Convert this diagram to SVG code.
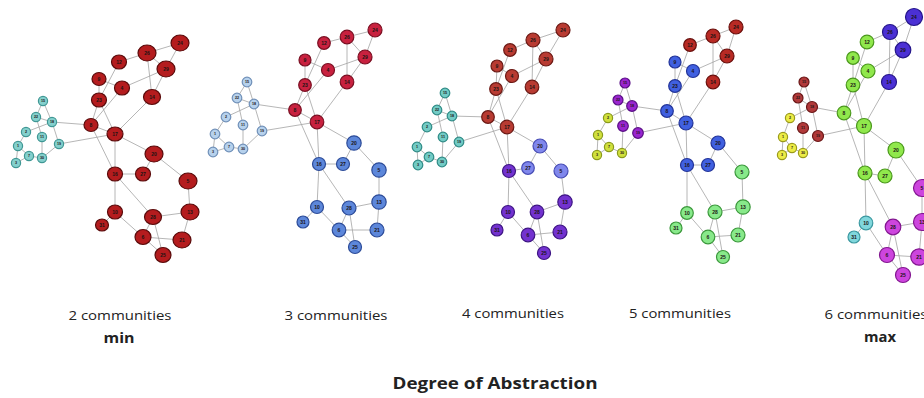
<svg xmlns="http://www.w3.org/2000/svg" width="924" height="398" viewBox="0 0 924 398">
<style>
  .links line { stroke:#a3a3a3; stroke-width:0.8; }
  .nd ellipse { stroke-width:1.2; }
  .nd text { font-family:"Liberation Sans", Arial, sans-serif; font-weight:bold; font-size:5px; text-anchor:middle; fill:#1c1414; }
  .sm text { font-size:3.7px; }
  .red1 ellipse { fill:#b41c1e; stroke:#5a0b0b; }
  .cyan1 ellipse { fill:#84d0cd; stroke:#3f9794; }
  .crim2 ellipse { fill:#c8213f; stroke:#7a0f22; }
  .blue2 ellipse { fill:#5d87da; stroke:#2c4b98; }
  .pale2 ellipse { fill:#b6d1ec; stroke:#7090b8; }
  .red3 ellipse { fill:#b83b32; stroke:#6b1914; }
  .cyan3 ellipse { fill:#72cbc5; stroke:#2f8b86; }
  .peri3 ellipse { fill:#8087ec; stroke:#474db5; }
  .purp3 ellipse { fill:#7332cf; stroke:#3d1583; }
  .red4 ellipse { fill:#b82a24; stroke:#690f0c; }
  .blue4 ellipse { fill:#4060e0; stroke:#223398; }
  .green4 ellipse { fill:#88e98a; stroke:#3b983b; }
  .purp4 ellipse { fill:#9a25cf; stroke:#590f85; }
  .yel4 ellipse { fill:#d0e03c; stroke:#8a9a1a; }
  .ind5 ellipse { fill:#4b30d4; stroke:#25168a; }
  .lime5 ellipse { fill:#90e84c; stroke:#4a981c; }
  .mag5 ellipse { fill:#cd45de; stroke:#82168f; }
  .cyan5 ellipse { fill:#80d7dc; stroke:#3a98a0; }
  .red5 ellipse { fill:#b0393a; stroke:#691616; }
  .yel5 ellipse { fill:#ecec46; stroke:#9a9a1a; }
  .cap { font-family:"Open Sans", "Noto Sans", "Liberation Sans", sans-serif; fill:#222; text-anchor:middle; }
</style>

<!-- ===== 2 communities ===== -->
<g id="panel1">
  <g id="p1-links" class="links">
    <line x1="180" y1="43" x2="147" y2="53"/><line x1="180" y1="43" x2="166" y2="69"/><line x1="147" y1="53" x2="166" y2="69"/>
    <line x1="147" y1="53" x2="119" y2="62"/><line x1="147" y1="53" x2="152" y2="97"/><line x1="166" y1="69" x2="122" y2="88"/>
    <line x1="166" y1="69" x2="152" y2="97"/><line x1="119" y1="62" x2="99" y2="100"/><line x1="99" y1="79" x2="99" y2="100"/>
    <line x1="99" y1="79" x2="122" y2="88"/><line x1="122" y1="88" x2="91" y2="125"/><line x1="99" y1="100" x2="91" y2="125"/>
    <line x1="99" y1="100" x2="115" y2="134"/><line x1="152" y1="97" x2="115" y2="134"/><line x1="91" y1="125" x2="115" y2="134"/>
    <line x1="91" y1="125" x2="52" y2="122"/><line x1="115" y1="134" x2="59" y2="144"/><line x1="91" y1="125" x2="115" y2="174"/>
    <line x1="115" y1="134" x2="115" y2="174"/><line x1="115" y1="134" x2="154" y2="154"/><line x1="154" y1="154" x2="143" y2="174"/>
    <line x1="154" y1="154" x2="188" y2="181"/><line x1="115" y1="174" x2="143" y2="174"/><line x1="115" y1="174" x2="115" y2="212"/>
    <line x1="115" y1="174" x2="153" y2="217"/><line x1="153" y1="217" x2="190" y2="212"/><line x1="188" y1="181" x2="190" y2="212"/>
    <line x1="190" y1="212" x2="182" y2="240"/><line x1="115" y1="212" x2="102" y2="225"/><line x1="115" y1="212" x2="143" y2="237"/>
    <line x1="153" y1="217" x2="143" y2="237"/><line x1="153" y1="217" x2="163" y2="255"/><line x1="143" y1="237" x2="182" y2="240"/>
    <line x1="143" y1="237" x2="163" y2="255"/>
    <line x1="43" y1="101" x2="36" y2="117"/><line x1="43" y1="101" x2="52" y2="122"/><line x1="36" y1="117" x2="52" y2="122"/>
    <line x1="26" y1="132" x2="52" y2="122"/><line x1="36" y1="117" x2="42" y2="137"/><line x1="52" y1="122" x2="59" y2="144"/>
    <line x1="26" y1="132" x2="18" y2="146"/><line x1="18" y1="146" x2="29" y2="156"/><line x1="16" y1="163" x2="29" y2="156"/>
    <line x1="29" y1="156" x2="42" y2="158"/><line x1="42" y1="137" x2="42" y2="158"/><line x1="42" y1="158" x2="59" y2="144"/>
    <line x1="18" y1="146" x2="16" y2="163"/>
  </g>
  <g class="nd red1">
    <g id="p1-24"><ellipse cx="180" cy="43" rx="9" ry="8"/><text x="180" y="45">24</text></g>
    <g id="p1-26"><ellipse cx="147" cy="53" rx="9" ry="8"/><text x="147" y="55">26</text></g>
    <g id="p1-29"><ellipse cx="166" cy="69" rx="9" ry="8"/><text x="166" y="71">29</text></g>
    <g id="p1-12"><ellipse cx="119" cy="62" rx="7.5" ry="7"/><text x="119" y="64">12</text></g>
    <g id="p1-9"><ellipse cx="99" cy="79" rx="7" ry="6.5"/><text x="99" y="81">9</text></g>
    <g id="p1-4"><ellipse cx="122" cy="88" rx="7.5" ry="7"/><text x="122" y="90">4</text></g>
    <g id="p1-14"><ellipse cx="152" cy="97" rx="8.5" ry="7.5"/><text x="152" y="99">14</text></g>
    <g id="p1-23"><ellipse cx="99" cy="100" rx="7.5" ry="7"/><text x="99" y="102">23</text></g>
    <g id="p1-8"><ellipse cx="91" cy="125" rx="7" ry="6.5"/><text x="91" y="127">8</text></g>
    <g id="p1-17"><ellipse cx="115" cy="134" rx="8" ry="7"/><text x="115" y="136">17</text></g>
    <g id="p1-20"><ellipse cx="154" cy="154" rx="9" ry="8"/><text x="154" y="156">20</text></g>
    <g id="p1-16"><ellipse cx="115" cy="174" rx="7.5" ry="7"/><text x="115" y="176">16</text></g>
    <g id="p1-27"><ellipse cx="143" cy="174" rx="7.5" ry="7"/><text x="143" y="176">27</text></g>
    <g id="p1-5"><ellipse cx="188" cy="181" rx="9" ry="8"/><text x="188" y="183">5</text></g>
    <g id="p1-10"><ellipse cx="115" cy="212" rx="7.5" ry="7"/><text x="115" y="214">10</text></g>
    <g id="p1-28"><ellipse cx="153" cy="217" rx="8.5" ry="7.5"/><text x="153" y="219">28</text></g>
    <g id="p1-13"><ellipse cx="190" cy="212" rx="9" ry="8"/><text x="190" y="214">13</text></g>
    <g id="p1-31"><ellipse cx="102" cy="225" rx="6.5" ry="6"/><text x="102" y="227">31</text></g>
    <g id="p1-6"><ellipse cx="143" cy="237" rx="8" ry="7.5"/><text x="143" y="239">6</text></g>
    <g id="p1-21"><ellipse cx="182" cy="240" rx="9" ry="8"/><text x="182" y="242">21</text></g>
    <g id="p1-25"><ellipse cx="163" cy="255" rx="8" ry="7.5"/><text x="163" y="257">25</text></g>
  </g>
  <g class="nd sm cyan1">
    <g id="p1-15"><ellipse cx="43" cy="101" rx="4.6" ry="4.6"/><text x="43" y="102.4">15</text></g>
    <g id="p1-22"><ellipse cx="36" cy="117" rx="4.6" ry="4.6"/><text x="36" y="118.4">22</text></g>
    <g id="p1-18"><ellipse cx="52" cy="122" rx="4.6" ry="4.6"/><text x="52" y="123.4">18</text></g>
    <g id="p1-2"><ellipse cx="26" cy="132" rx="4.6" ry="4.6"/><text x="26" y="133.4">2</text></g>
    <g id="p1-11"><ellipse cx="42" cy="137" rx="4.6" ry="4.6"/><text x="42" y="138.4">11</text></g>
    <g id="p1-19"><ellipse cx="59" cy="144" rx="4.6" ry="4.6"/><text x="59" y="145.4">19</text></g>
    <g id="p1-1"><ellipse cx="18" cy="146" rx="4.6" ry="4.6"/><text x="18" y="147.4">1</text></g>
    <g id="p1-7"><ellipse cx="29" cy="156" rx="4.6" ry="4.6"/><text x="29" y="157.4">7</text></g>
    <g id="p1-30"><ellipse cx="42" cy="158" rx="4.6" ry="4.6"/><text x="42" y="159.4">30</text></g>
    <g id="p1-3"><ellipse cx="16" cy="163" rx="4.6" ry="4.6"/><text x="16" y="164.4">3</text></g>
  </g>
</g>

<!-- ===== 3 communities ===== -->
<g id="panel2">
  <g id="p2-links" class="links">
    <line x1="375" y1="30" x2="347" y2="37"/><line x1="375" y1="30" x2="365" y2="57"/><line x1="347" y1="37" x2="365" y2="57"/>
    <line x1="347" y1="37" x2="324" y2="43"/><line x1="347" y1="37" x2="347" y2="82"/><line x1="365" y1="57" x2="328" y2="70"/>
    <line x1="365" y1="57" x2="347" y2="82"/><line x1="324" y1="43" x2="305" y2="85"/><line x1="305" y1="60" x2="305" y2="85"/>
    <line x1="305" y1="60" x2="328" y2="70"/><line x1="328" y1="70" x2="295" y2="110"/><line x1="305" y1="85" x2="295" y2="110"/>
    <line x1="305" y1="85" x2="317" y2="122"/><line x1="347" y1="82" x2="317" y2="122"/><line x1="295" y1="110" x2="317" y2="122"/>
    <line x1="295" y1="110" x2="254" y2="104"/><line x1="317" y1="122" x2="262" y2="131"/><line x1="295" y1="110" x2="319" y2="164"/>
    <line x1="317" y1="122" x2="319" y2="164"/><line x1="317" y1="122" x2="354" y2="143"/><line x1="354" y1="143" x2="343" y2="164"/>
    <line x1="354" y1="143" x2="379" y2="170"/><line x1="319" y1="164" x2="343" y2="164"/><line x1="319" y1="164" x2="317" y2="207"/>
    <line x1="319" y1="164" x2="349" y2="208"/><line x1="349" y1="208" x2="379" y2="202"/><line x1="379" y1="170" x2="379" y2="202"/>
    <line x1="379" y1="202" x2="377" y2="230"/><line x1="317" y1="207" x2="303" y2="222"/><line x1="317" y1="207" x2="339" y2="230"/>
    <line x1="349" y1="208" x2="339" y2="230"/><line x1="349" y1="208" x2="355" y2="247"/><line x1="339" y1="230" x2="377" y2="230"/>
    <line x1="339" y1="230" x2="355" y2="247"/>
    <line x1="247" y1="82" x2="237" y2="98"/><line x1="247" y1="82" x2="254" y2="104"/><line x1="237" y1="98" x2="254" y2="104"/>
    <line x1="226" y1="117" x2="254" y2="104"/><line x1="237" y1="98" x2="243" y2="125"/><line x1="254" y1="104" x2="262" y2="131"/>
    <line x1="226" y1="117" x2="215" y2="134"/><line x1="215" y1="134" x2="229" y2="147"/><line x1="213" y1="152" x2="229" y2="147"/>
    <line x1="229" y1="147" x2="243" y2="149"/><line x1="243" y1="125" x2="243" y2="149"/><line x1="243" y1="149" x2="262" y2="131"/>
    <line x1="215" y1="134" x2="213" y2="152"/>
  </g>
  <g class="nd crim2">
    <g id="p2-24"><ellipse cx="375" cy="30" rx="7" ry="7"/><text x="375" y="32">24</text></g>
    <g id="p2-26"><ellipse cx="347" cy="37" rx="6.8" ry="6.8"/><text x="347" y="39">26</text></g>
    <g id="p2-29"><ellipse cx="365" cy="57" rx="7" ry="7"/><text x="365" y="59">29</text></g>
    <g id="p2-12"><ellipse cx="324" cy="43" rx="6.3" ry="6.3"/><text x="324" y="45">12</text></g>
    <g id="p2-9"><ellipse cx="305" cy="60" rx="6" ry="6"/><text x="305" y="62">9</text></g>
    <g id="p2-4"><ellipse cx="328" cy="70" rx="6.5" ry="6.5"/><text x="328" y="72">4</text></g>
    <g id="p2-14"><ellipse cx="347" cy="82" rx="6.8" ry="6.8"/><text x="347" y="84">14</text></g>
    <g id="p2-23"><ellipse cx="305" cy="85" rx="6.3" ry="6.3"/><text x="305" y="87">23</text></g>
    <g id="p2-8"><ellipse cx="295" cy="110" rx="6.3" ry="6.3"/><text x="295" y="112">8</text></g>
    <g id="p2-17"><ellipse cx="317" cy="122" rx="6.8" ry="6.8"/><text x="317" y="124">17</text></g>
  </g>
  <g class="nd blue2">
    <g id="p2-20"><ellipse cx="354" cy="143" rx="7.2" ry="7.2"/><text x="354" y="145">20</text></g>
    <g id="p2-16"><ellipse cx="319" cy="164" rx="6.5" ry="6.5"/><text x="319" y="166">16</text></g>
    <g id="p2-27"><ellipse cx="343" cy="164" rx="6.5" ry="6.5"/><text x="343" y="166">27</text></g>
    <g id="p2-5"><ellipse cx="379" cy="170" rx="7.2" ry="7.2"/><text x="379" y="172">5</text></g>
    <g id="p2-10"><ellipse cx="317" cy="207" rx="6.5" ry="6.5"/><text x="317" y="209">10</text></g>
    <g id="p2-28"><ellipse cx="349" cy="208" rx="7" ry="7"/><text x="349" y="210">28</text></g>
    <g id="p2-13"><ellipse cx="379" cy="202" rx="7.2" ry="7.2"/><text x="379" y="204">13</text></g>
    <g id="p2-31"><ellipse cx="303" cy="222" rx="6" ry="6"/><text x="303" y="224">31</text></g>
    <g id="p2-6"><ellipse cx="339" cy="230" rx="6.8" ry="6.8"/><text x="339" y="232">6</text></g>
    <g id="p2-21"><ellipse cx="377" cy="230" rx="7" ry="7"/><text x="377" y="232">21</text></g>
    <g id="p2-25"><ellipse cx="355" cy="247" rx="6.5" ry="6.5"/><text x="355" y="249">25</text></g>
  </g>
  <g class="nd sm pale2">
    <g id="p2-15"><ellipse cx="247" cy="82" rx="4.8" ry="4.8"/><text x="247" y="83.4">15</text></g>
    <g id="p2-22"><ellipse cx="237" cy="98" rx="4.8" ry="4.8"/><text x="237" y="99.4">22</text></g>
    <g id="p2-18"><ellipse cx="254" cy="104" rx="4.8" ry="4.8"/><text x="254" y="105.4">18</text></g>
    <g id="p2-2"><ellipse cx="226" cy="117" rx="4.8" ry="4.8"/><text x="226" y="118.4">2</text></g>
    <g id="p2-11"><ellipse cx="243" cy="125" rx="4.8" ry="4.8"/><text x="243" y="126.4">11</text></g>
    <g id="p2-19"><ellipse cx="262" cy="131" rx="4.8" ry="4.8"/><text x="262" y="132.4">19</text></g>
    <g id="p2-1"><ellipse cx="215" cy="134" rx="4.8" ry="4.8"/><text x="215" y="135.4">1</text></g>
    <g id="p2-7"><ellipse cx="229" cy="147" rx="4.8" ry="4.8"/><text x="229" y="148.4">7</text></g>
    <g id="p2-30"><ellipse cx="243" cy="149" rx="4.8" ry="4.8"/><text x="243" y="150.4">30</text></g>
    <g id="p2-3"><ellipse cx="213" cy="152" rx="4.8" ry="4.8"/><text x="213" y="153.4">3</text></g>
  </g>
</g>

<!-- ===== 4 communities ===== -->
<g id="panel3">
  <g id="p3-links" class="links">
    <line x1="563" y1="30" x2="533" y2="40"/><line x1="563" y1="30" x2="546" y2="59"/><line x1="533" y1="40" x2="546" y2="59"/>
    <line x1="533" y1="40" x2="510" y2="50"/><line x1="533" y1="40" x2="532" y2="87"/><line x1="546" y1="59" x2="512" y2="76"/>
    <line x1="546" y1="59" x2="532" y2="87"/><line x1="510" y1="50" x2="496" y2="89"/><line x1="497" y1="66" x2="496" y2="89"/>
    <line x1="497" y1="66" x2="512" y2="76"/><line x1="512" y1="76" x2="488" y2="117"/><line x1="496" y1="89" x2="488" y2="117"/>
    <line x1="496" y1="89" x2="507" y2="127"/><line x1="532" y1="87" x2="507" y2="127"/><line x1="488" y1="117" x2="507" y2="127"/>
    <line x1="488" y1="117" x2="452" y2="116"/><line x1="507" y1="127" x2="459" y2="142"/><line x1="488" y1="117" x2="509" y2="171"/>
    <line x1="507" y1="127" x2="509" y2="171"/><line x1="507" y1="127" x2="540" y2="146"/><line x1="540" y1="146" x2="528" y2="168"/>
    <line x1="540" y1="146" x2="561" y2="171"/><line x1="509" y1="171" x2="528" y2="168"/><line x1="509" y1="171" x2="508" y2="212"/>
    <line x1="509" y1="171" x2="537" y2="212"/><line x1="537" y1="212" x2="565" y2="202"/><line x1="561" y1="171" x2="565" y2="202"/>
    <line x1="565" y1="202" x2="560" y2="232"/><line x1="508" y1="212" x2="497" y2="230"/><line x1="508" y1="212" x2="528" y2="235"/>
    <line x1="537" y1="212" x2="528" y2="235"/><line x1="537" y1="212" x2="544" y2="253"/><line x1="528" y1="235" x2="560" y2="232"/>
    <line x1="528" y1="235" x2="544" y2="253"/>
    <line x1="445" y1="93" x2="437" y2="110"/><line x1="445" y1="93" x2="452" y2="116"/><line x1="437" y1="110" x2="452" y2="116"/>
    <line x1="427" y1="127" x2="452" y2="116"/><line x1="437" y1="110" x2="443" y2="137"/><line x1="452" y1="116" x2="459" y2="142"/>
    <line x1="427" y1="127" x2="417" y2="147"/><line x1="417" y1="147" x2="429" y2="157"/><line x1="418" y1="165" x2="429" y2="157"/>
    <line x1="429" y1="157" x2="442" y2="162"/><line x1="443" y1="137" x2="442" y2="162"/><line x1="442" y1="162" x2="459" y2="142"/>
    <line x1="417" y1="147" x2="418" y2="165"/>
  </g>
  <g class="nd red3">
    <g id="p3-24"><ellipse cx="563" cy="30" rx="7" ry="7"/><text x="563" y="32">24</text></g>
    <g id="p3-26"><ellipse cx="533" cy="40" rx="7" ry="7"/><text x="533" y="42">26</text></g>
    <g id="p3-29"><ellipse cx="546" cy="59" rx="7" ry="7"/><text x="546" y="61">29</text></g>
    <g id="p3-12"><ellipse cx="510" cy="50" rx="6.3" ry="6.3"/><text x="510" y="52">12</text></g>
    <g id="p3-9"><ellipse cx="497" cy="66" rx="6" ry="6"/><text x="497" y="68">9</text></g>
    <g id="p3-4"><ellipse cx="512" cy="76" rx="6.5" ry="6.5"/><text x="512" y="78">4</text></g>
    <g id="p3-14"><ellipse cx="532" cy="87" rx="6.8" ry="6.8"/><text x="532" y="89">14</text></g>
    <g id="p3-23"><ellipse cx="496" cy="89" rx="6.3" ry="6.3"/><text x="496" y="91">23</text></g>
    <g id="p3-8"><ellipse cx="488" cy="117" rx="6.3" ry="6.3"/><text x="488" y="119">8</text></g>
    <g id="p3-17"><ellipse cx="507" cy="127" rx="6.8" ry="6.8"/><text x="507" y="129">17</text></g>
  </g>
  <g class="nd peri3">
    <g id="p3-20"><ellipse cx="540" cy="146" rx="7" ry="7"/><text x="540" y="148">20</text></g>
    <g id="p3-27"><ellipse cx="528" cy="168" rx="6.3" ry="6.3"/><text x="528" y="170">27</text></g>
    <g id="p3-5"><ellipse cx="561" cy="171" rx="7" ry="7"/><text x="561" y="173">5</text></g>
  </g>
  <g class="nd purp3">
    <g id="p3-16"><ellipse cx="509" cy="171" rx="6.5" ry="6.5"/><text x="509" y="173">16</text></g>
    <g id="p3-10"><ellipse cx="508" cy="212" rx="6.5" ry="6.5"/><text x="508" y="214">10</text></g>
    <g id="p3-28"><ellipse cx="537" cy="212" rx="6.8" ry="6.8"/><text x="537" y="214">28</text></g>
    <g id="p3-13"><ellipse cx="565" cy="202" rx="7.2" ry="7.2"/><text x="565" y="204">13</text></g>
    <g id="p3-31"><ellipse cx="497" cy="230" rx="6" ry="6"/><text x="497" y="232">31</text></g>
    <g id="p3-6"><ellipse cx="528" cy="235" rx="6.8" ry="6.8"/><text x="528" y="237">6</text></g>
    <g id="p3-21"><ellipse cx="560" cy="232" rx="7" ry="7"/><text x="560" y="234">21</text></g>
    <g id="p3-25"><ellipse cx="544" cy="253" rx="6.5" ry="6.5"/><text x="544" y="255">25</text></g>
  </g>
  <g class="nd sm cyan3">
    <g id="p3-15"><ellipse cx="445" cy="93" rx="4.8" ry="4.8"/><text x="445" y="94.4">15</text></g>
    <g id="p3-22"><ellipse cx="437" cy="110" rx="4.8" ry="4.8"/><text x="437" y="111.4">22</text></g>
    <g id="p3-18"><ellipse cx="452" cy="116" rx="4.8" ry="4.8"/><text x="452" y="117.4">18</text></g>
    <g id="p3-2"><ellipse cx="427" cy="127" rx="4.8" ry="4.8"/><text x="427" y="128.4">2</text></g>
    <g id="p3-11"><ellipse cx="443" cy="137" rx="4.8" ry="4.8"/><text x="443" y="138.4">11</text></g>
    <g id="p3-19"><ellipse cx="459" cy="142" rx="4.8" ry="4.8"/><text x="459" y="143.4">19</text></g>
    <g id="p3-1"><ellipse cx="417" cy="147" rx="4.8" ry="4.8"/><text x="417" y="148.4">1</text></g>
    <g id="p3-7"><ellipse cx="429" cy="157" rx="4.8" ry="4.8"/><text x="429" y="158.4">7</text></g>
    <g id="p3-30"><ellipse cx="442" cy="162" rx="4.8" ry="4.8"/><text x="442" y="163.4">30</text></g>
    <g id="p3-3"><ellipse cx="418" cy="165" rx="4.8" ry="4.8"/><text x="418" y="166.4">3</text></g>
  </g>
</g>

<!-- ===== 5 communities ===== -->
<g id="panel4">
  <g id="p4-links" class="links">
    <line x1="736" y1="27" x2="713" y2="36"/><line x1="736" y1="27" x2="727" y2="56"/><line x1="713" y1="36" x2="727" y2="56"/>
    <line x1="713" y1="36" x2="690" y2="45"/><line x1="713" y1="36" x2="713" y2="82"/><line x1="727" y1="56" x2="693" y2="71"/>
    <line x1="727" y1="56" x2="713" y2="82"/><line x1="690" y1="45" x2="675" y2="86"/><line x1="675" y1="62" x2="675" y2="86"/>
    <line x1="675" y1="62" x2="693" y2="71"/><line x1="693" y1="71" x2="667" y2="111"/><line x1="675" y1="86" x2="667" y2="111"/>
    <line x1="675" y1="86" x2="686" y2="123"/><line x1="713" y1="82" x2="686" y2="123"/><line x1="667" y1="111" x2="686" y2="123"/>
    <line x1="667" y1="111" x2="632" y2="106"/><line x1="686" y1="123" x2="638" y2="133"/><line x1="667" y1="111" x2="687" y2="165"/>
    <line x1="686" y1="123" x2="687" y2="165"/><line x1="686" y1="123" x2="718" y2="143"/><line x1="718" y1="143" x2="708" y2="165"/>
    <line x1="718" y1="143" x2="742" y2="172"/><line x1="687" y1="165" x2="708" y2="165"/><line x1="687" y1="165" x2="687" y2="213"/>
    <line x1="687" y1="165" x2="715" y2="212"/><line x1="715" y1="212" x2="743" y2="207"/><line x1="742" y1="172" x2="743" y2="207"/>
    <line x1="743" y1="207" x2="738" y2="235"/><line x1="687" y1="213" x2="676" y2="228"/><line x1="687" y1="213" x2="708" y2="237"/>
    <line x1="715" y1="212" x2="708" y2="237"/><line x1="715" y1="212" x2="723" y2="257"/><line x1="708" y1="237" x2="738" y2="235"/>
    <line x1="708" y1="237" x2="723" y2="257"/>
    <line x1="625" y1="83" x2="618" y2="100"/><line x1="625" y1="83" x2="632" y2="106"/><line x1="618" y1="100" x2="632" y2="106"/>
    <line x1="608" y1="118" x2="632" y2="106"/><line x1="618" y1="100" x2="623" y2="126"/><line x1="632" y1="106" x2="638" y2="133"/>
    <line x1="608" y1="118" x2="598" y2="135"/><line x1="598" y1="135" x2="609" y2="147"/><line x1="597" y1="155" x2="609" y2="147"/>
    <line x1="609" y1="147" x2="622" y2="153"/><line x1="623" y1="126" x2="622" y2="153"/><line x1="622" y1="153" x2="638" y2="133"/>
    <line x1="598" y1="135" x2="597" y2="155"/>
  </g>
  <g class="nd red4">
    <g id="p4-24"><ellipse cx="736" cy="27" rx="7" ry="7"/><text x="736" y="29">24</text></g>
    <g id="p4-26"><ellipse cx="713" cy="36" rx="7" ry="7"/><text x="713" y="38">26</text></g>
    <g id="p4-29"><ellipse cx="727" cy="56" rx="7" ry="7"/><text x="727" y="58">29</text></g>
    <g id="p4-12"><ellipse cx="690" cy="45" rx="6.3" ry="6.3"/><text x="690" y="47">12</text></g>
    <g id="p4-14"><ellipse cx="713" cy="82" rx="6.8" ry="6.8"/><text x="713" y="84">14</text></g>
  </g>
  <g class="nd blue4">
    <g id="p4-9"><ellipse cx="675" cy="62" rx="6" ry="6"/><text x="675" y="64">9</text></g>
    <g id="p4-4"><ellipse cx="693" cy="71" rx="6.5" ry="6.5"/><text x="693" y="73">4</text></g>
    <g id="p4-23"><ellipse cx="675" cy="86" rx="6.3" ry="6.3"/><text x="675" y="88">23</text></g>
    <g id="p4-8"><ellipse cx="667" cy="111" rx="6.3" ry="6.3"/><text x="667" y="113">8</text></g>
    <g id="p4-17"><ellipse cx="686" cy="123" rx="7" ry="7"/><text x="686" y="125">17</text></g>
    <g id="p4-20"><ellipse cx="718" cy="143" rx="7" ry="7"/><text x="718" y="145">20</text></g>
    <g id="p4-16"><ellipse cx="687" cy="165" rx="6.5" ry="6.5"/><text x="687" y="167">16</text></g>
    <g id="p4-27"><ellipse cx="708" cy="165" rx="6.5" ry="6.5"/><text x="708" y="167">27</text></g>
  </g>
  <g class="nd green4">
    <g id="p4-5"><ellipse cx="742" cy="172" rx="7" ry="7"/><text x="742" y="174">5</text></g>
    <g id="p4-10"><ellipse cx="687" cy="213" rx="6.3" ry="6.3"/><text x="687" y="215">10</text></g>
    <g id="p4-28"><ellipse cx="715" cy="212" rx="7" ry="7"/><text x="715" y="214">28</text></g>
    <g id="p4-13"><ellipse cx="743" cy="207" rx="7.2" ry="7.2"/><text x="743" y="209">13</text></g>
    <g id="p4-31"><ellipse cx="676" cy="228" rx="6" ry="6"/><text x="676" y="230">31</text></g>
    <g id="p4-6"><ellipse cx="708" cy="237" rx="6.8" ry="6.8"/><text x="708" y="239">6</text></g>
    <g id="p4-21"><ellipse cx="738" cy="235" rx="7" ry="7"/><text x="738" y="237">21</text></g>
    <g id="p4-25"><ellipse cx="723" cy="257" rx="6.5" ry="6.5"/><text x="723" y="259">25</text></g>
  </g>
  <g class="nd sm purp4">
    <g id="p4-15"><ellipse cx="625" cy="83" rx="5" ry="5"/><text x="625" y="84.4">15</text></g>
    <g id="p4-22"><ellipse cx="618" cy="100" rx="5" ry="5"/><text x="618" y="101.4">22</text></g>
    <g id="p4-18"><ellipse cx="632" cy="106" rx="5.3" ry="5.3"/><text x="632" y="107.4">18</text></g>
    <g id="p4-11"><ellipse cx="623" cy="126" rx="5.3" ry="5.3"/><text x="623" y="127.4">11</text></g>
    <g id="p4-19"><ellipse cx="638" cy="133" rx="5.3" ry="5.3"/><text x="638" y="134.4">19</text></g>
  </g>
  <g class="nd sm yel4">
    <g id="p4-2"><ellipse cx="608" cy="118" rx="4.6" ry="4.6"/><text x="608" y="119.4">2</text></g>
    <g id="p4-1"><ellipse cx="598" cy="135" rx="4.6" ry="4.6"/><text x="598" y="136.4">1</text></g>
    <g id="p4-7"><ellipse cx="609" cy="147" rx="4.6" ry="4.6"/><text x="609" y="148.4">7</text></g>
    <g id="p4-30"><ellipse cx="622" cy="153" rx="4.6" ry="4.6"/><text x="622" y="154.4">30</text></g>
    <g id="p4-3"><ellipse cx="597" cy="155" rx="4.6" ry="4.6"/><text x="597" y="156.4">3</text></g>
  </g>
</g>

<!-- ===== 6 communities ===== -->
<g id="panel5">
  <g id="p5-links" class="links">
    <line x1="914" y1="17" x2="890" y2="32"/><line x1="914" y1="17" x2="903" y2="50"/><line x1="890" y1="32" x2="903" y2="50"/>
    <line x1="890" y1="32" x2="867" y2="42"/><line x1="890" y1="32" x2="889" y2="82"/><line x1="903" y1="50" x2="868" y2="71"/>
    <line x1="903" y1="50" x2="889" y2="82"/><line x1="867" y1="42" x2="853" y2="85"/><line x1="853" y1="58" x2="853" y2="85"/>
    <line x1="853" y1="58" x2="868" y2="71"/><line x1="868" y1="71" x2="844" y2="113"/><line x1="853" y1="85" x2="844" y2="113"/>
    <line x1="853" y1="85" x2="864" y2="126"/><line x1="889" y1="82" x2="864" y2="126"/><line x1="844" y1="113" x2="864" y2="126"/>
    <line x1="844" y1="113" x2="812" y2="107"/><line x1="864" y1="126" x2="818" y2="136"/><line x1="844" y1="113" x2="865" y2="173"/>
    <line x1="864" y1="126" x2="865" y2="173"/><line x1="864" y1="126" x2="896" y2="150"/><line x1="896" y1="150" x2="885" y2="176"/>
    <line x1="896" y1="150" x2="922" y2="188"/><line x1="865" y1="173" x2="885" y2="176"/><line x1="865" y1="173" x2="866" y2="223"/>
    <line x1="865" y1="173" x2="893" y2="227"/><line x1="893" y1="227" x2="922" y2="222"/><line x1="922" y1="188" x2="922" y2="222"/>
    <line x1="922" y1="222" x2="919" y2="257"/><line x1="866" y1="223" x2="854" y2="237"/><line x1="866" y1="223" x2="887" y2="255"/>
    <line x1="893" y1="227" x2="887" y2="255"/><line x1="893" y1="227" x2="903" y2="275"/><line x1="887" y1="255" x2="919" y2="257"/>
    <line x1="887" y1="255" x2="903" y2="275"/>
    <line x1="804" y1="82" x2="798" y2="98"/><line x1="804" y1="82" x2="812" y2="107"/><line x1="798" y1="98" x2="812" y2="107"/>
    <line x1="790" y1="118" x2="812" y2="107"/><line x1="798" y1="98" x2="803" y2="128"/><line x1="812" y1="107" x2="818" y2="136"/>
    <line x1="790" y1="118" x2="783" y2="137"/><line x1="783" y1="137" x2="792" y2="148"/><line x1="782" y1="155" x2="792" y2="148"/>
    <line x1="792" y1="148" x2="803" y2="153"/><line x1="803" y1="128" x2="803" y2="153"/><line x1="803" y1="153" x2="818" y2="136"/>
    <line x1="783" y1="137" x2="782" y2="155"/>
  </g>
  <g class="nd ind5">
    <g id="p5-24"><ellipse cx="914" cy="17" rx="8.5" ry="8.5"/><text x="914" y="19">24</text></g>
    <g id="p5-26"><ellipse cx="890" cy="32" rx="7.5" ry="7.5"/><text x="890" y="34">26</text></g>
    <g id="p5-29"><ellipse cx="903" cy="50" rx="7.8" ry="7.8"/><text x="903" y="52">29</text></g>
    <g id="p5-14"><ellipse cx="889" cy="82" rx="7.5" ry="7.5"/><text x="889" y="84">14</text></g>
  </g>
  <g class="nd lime5">
    <g id="p5-12"><ellipse cx="867" cy="42" rx="6.8" ry="6.8"/><text x="867" y="44">12</text></g>
    <g id="p5-9"><ellipse cx="853" cy="58" rx="6.3" ry="6.3"/><text x="853" y="60">9</text></g>
    <g id="p5-4"><ellipse cx="868" cy="71" rx="7" ry="7"/><text x="868" y="73">4</text></g>
    <g id="p5-23"><ellipse cx="853" cy="85" rx="6.8" ry="6.8"/><text x="853" y="87">23</text></g>
    <g id="p5-8"><ellipse cx="844" cy="113" rx="6.8" ry="6.8"/><text x="844" y="115">8</text></g>
    <g id="p5-17"><ellipse cx="864" cy="126" rx="7.5" ry="7.5"/><text x="864" y="128">17</text></g>
    <g id="p5-20"><ellipse cx="896" cy="150" rx="8" ry="8"/><text x="896" y="152">20</text></g>
    <g id="p5-16"><ellipse cx="865" cy="173" rx="7" ry="7"/><text x="865" y="175">16</text></g>
    <g id="p5-27"><ellipse cx="885" cy="176" rx="7" ry="7"/><text x="885" y="178">27</text></g>
  </g>
  <g class="nd mag5">
    <g id="p5-5"><ellipse cx="922" cy="188" rx="8.5" ry="8.5"/><text x="922" y="190">5</text></g>
    <g id="p5-28"><ellipse cx="893" cy="227" rx="7.8" ry="7.8"/><text x="893" y="229">28</text></g>
    <g id="p5-13"><ellipse cx="922" cy="222" rx="8.5" ry="8.5"/><text x="922" y="224">13</text></g>
    <g id="p5-6"><ellipse cx="887" cy="255" rx="7.5" ry="7.5"/><text x="887" y="257">6</text></g>
    <g id="p5-21"><ellipse cx="919" cy="257" rx="8.2" ry="8.2"/><text x="919" y="259">21</text></g>
    <g id="p5-25"><ellipse cx="903" cy="275" rx="7.5" ry="7.5"/><text x="903" y="277">25</text></g>
  </g>
  <g class="nd cyan5">
    <g id="p5-10"><ellipse cx="866" cy="223" rx="6.8" ry="6.8"/><text x="866" y="225">10</text></g>
    <g id="p5-31"><ellipse cx="854" cy="237" rx="6" ry="6"/><text x="854" y="239">31</text></g>
  </g>
  <g class="nd sm red5">
    <g id="p5-15"><ellipse cx="804" cy="82" rx="5" ry="5"/><text x="804" y="83.4">15</text></g>
    <g id="p5-22"><ellipse cx="798" cy="98" rx="5" ry="5"/><text x="798" y="99.4">22</text></g>
    <g id="p5-18"><ellipse cx="812" cy="107" rx="5.5" ry="5.5"/><text x="812" y="108.4">18</text></g>
    <g id="p5-11"><ellipse cx="803" cy="128" rx="5.5" ry="5.5"/><text x="803" y="129.4">11</text></g>
    <g id="p5-19"><ellipse cx="818" cy="136" rx="5.5" ry="5.5"/><text x="818" y="137.4">19</text></g>
  </g>
  <g class="nd sm yel5">
    <g id="p5-2"><ellipse cx="790" cy="118" rx="4.6" ry="4.6"/><text x="790" y="119.4">2</text></g>
    <g id="p5-1"><ellipse cx="783" cy="137" rx="4.6" ry="4.6"/><text x="783" y="138.4">1</text></g>
    <g id="p5-7"><ellipse cx="792" cy="148" rx="4.6" ry="4.6"/><text x="792" y="149.4">7</text></g>
    <g id="p5-30"><ellipse cx="803" cy="153" rx="4.6" ry="4.6"/><text x="803" y="154.4">30</text></g>
    <g id="p5-3"><ellipse cx="782" cy="155" rx="4.6" ry="4.6"/><text x="782" y="156.4">3</text></g>
  </g>
</g>

<!-- captions -->
<g id="captions">
  <text class="cap" x="120" y="320" font-size="13" textLength="103" lengthAdjust="spacingAndGlyphs">2 communities</text>
  <text class="cap" x="336" y="320" font-size="13" textLength="103" lengthAdjust="spacingAndGlyphs">3 communities</text>
  <text class="cap" x="513" y="318" font-size="13" textLength="102" lengthAdjust="spacingAndGlyphs">4 communities</text>
  <text class="cap" x="680" y="318" font-size="13" textLength="102" lengthAdjust="spacingAndGlyphs">5 communities</text>
  <text class="cap" x="876" y="319" font-size="13" textLength="103" lengthAdjust="spacingAndGlyphs">6 communities</text>
  <text class="cap" x="119" y="343" font-size="15" font-weight="bold" textLength="31" lengthAdjust="spacingAndGlyphs">min</text>
  <text class="cap" x="880" y="342" font-size="15" font-weight="bold" textLength="32" lengthAdjust="spacingAndGlyphs">max</text>
  <text class="cap" x="495" y="389" font-size="16.5" font-weight="bold" textLength="205" lengthAdjust="spacingAndGlyphs">Degree of Abstraction</text>
</g>
</svg>
